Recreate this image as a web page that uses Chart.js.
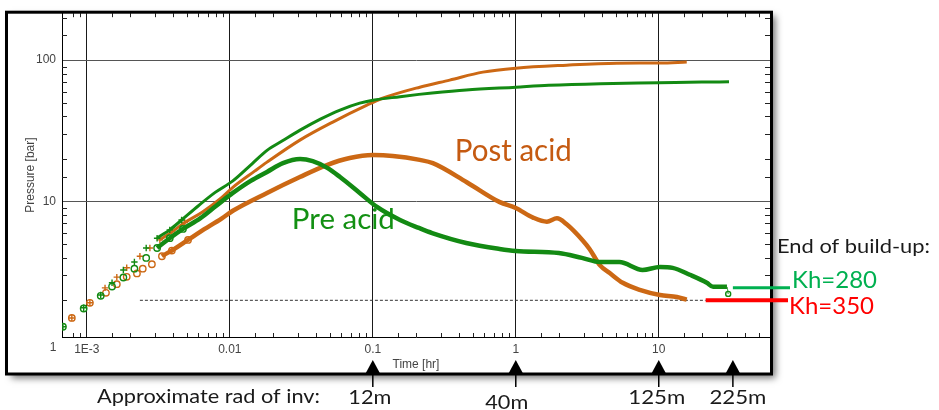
<!DOCTYPE html>
<html>
<head>
<meta charset="utf-8">
<script src="https://cdn.jsdelivr.net/npm/chart.js@4.4.1/dist/chart.umd.min.js"></script>
<style>
  html, body { margin: 0; padding: 0; background: #fff; }
  #wrap { width: 939px; height: 410px; }
</style>
</head>
<body>
<div id="wrap"><canvas id="myChart" width="939" height="410"></canvas></div>
<script>
// Pre acid (green): pressure change and derivative
const preDpT = [6.8e-4, 9.5e-4, 1.25e-3, 1.5e-3, 1.8e-3, 2.15e-3, 2.6e-3, 3.1e-3, 3.8e-3, 4.6e-3, 6.0e-3, 7.9e-3, 0.0105, 0.0143, 0.0182, 0.0235, 0.031, 0.043, 0.059, 0.081, 0.1, 0.155, 0.21, 0.26, 0.45, 1.0, 1.7, 3.9, 10, 20, 31];
const preDpP = [1.30, 1.77, 2.18, 2.66, 3.28, 3.73, 4.69, 5.5, 6.3, 7.4, 9.3, 11.6, 14.0, 18.5, 23, 27, 32, 38.3, 44.4, 49.7, 52.1, 55.2, 57.3, 58.6, 61.5, 64.4, 66.4, 68.2, 69.2, 70.0, 70.3];
const preDerT = [6.8e-4, 9.5e-4, 1.25e-3, 1.5e-3, 1.8e-3, 2.15e-3, 2.6e-3, 3.1e-3, 3.8e-3, 4.7e-3, 6.2e-3, 0.008, 0.0105, 0.014, 0.0182, 0.0235, 0.031, 0.038, 0.048, 0.059, 0.081, 0.107, 0.155, 0.21, 0.26, 0.45, 0.77, 1.0, 2.0, 2.9, 3.9, 5.3, 7.7, 10.2, 12.5, 16.5, 21.7, 24, 30, 30.6];
const preDerP = [1.30, 1.75, 2.15, 2.5, 2.9, 3.35, 3.99, 4.69, 5.5, 6.4, 7.6, 9.3, 11.5, 14.0, 16.2, 18.7, 20.0, 19.3, 17.3, 14.9, 11.5, 9.15, 7.4, 6.5, 5.98, 5.09, 4.62, 4.47, 4.32, 3.99, 3.73, 3.73, 3.28, 3.44, 3.39, 3.03, 2.66, 2.49, 2.49, 2.22];

// Post acid (orange): pressure change and derivative
const postDpT = [7.85e-4, 1.05e-3, 1.34e-3, 1.62e-3, 1.9e-3, 2.35e-3, 2.76e-3, 3.24e-3, 3.93e-3, 4.84e-3, 6.4e-3, 8.8e-3, 0.0105, 0.0149, 0.0182, 0.0309, 0.0525, 0.091, 0.117, 0.213, 0.345, 0.588, 1.0, 2.27, 5.1, 10.2, 15.7];
const postDpP = [1.50, 1.92, 2.45, 2.92, 3.4, 4.1, 4.69, 5.35, 6.1, 7.1, 8.4, 10.7, 12.6, 16.4, 19.0, 27.2, 36.5, 48.1, 53.8, 64.4, 72.3, 82.3, 87.8, 92.2, 95.2, 95.6, 97.0];
const postDerT = [7.85e-4, 1.05e-3, 1.36e-3, 1.62e-3, 1.9e-3, 2.24e-3, 2.46e-3, 2.85e-3, 3.35e-3, 3.93e-3, 5.1e-3, 6.2e-3, 8.8e-3, 0.0105, 0.0182, 0.0309, 0.0477, 0.069, 0.1, 0.138, 0.213, 0.263, 0.454, 0.773, 1.0, 1.32, 1.65, 1.94, 2.27, 2.94, 3.29, 3.87, 4.54, 5.6, 7.36, 10.2, 13.4, 15.7];
const postDerP = [1.50, 1.92, 2.26, 2.6, 2.93, 3.1, 3.35, 3.6, 4.1, 4.5, 5.35, 6.1, 7.6, 8.6, 11.5, 14.9, 18.1, 20.3, 21.3, 21.0, 19.7, 18.7, 13.7, 9.9, 9.0, 7.7, 7.2, 7.6, 6.9, 5.3, 4.6, 3.55, 3.12, 2.66, 2.37, 2.18, 2.11, 2.02];

// dotted reference level
const refT = [0.00235, 21.3];
const refP = [2, 2];

const xTickVals = [0.001, 0.01, 0.1, 1, 10];
const xTickLabels = ['1E-3', '0.01', '0.1', '1', '10'];
const yTickVals = [10, 100];
const yTickLabels = ['10', '100'];

// radius of investigation markers under the time axis
const radInvT = [0.1, 1, 10, 33];
const radInvLabels = ['12m', '40m', '125m', '225m'];

// end of build-up lines: start time / pressure
const khLabels = ['Kh=280', 'Kh=350'];
const khT = [33, 21.3];
const khP = [2.45, 2.0];

const GREEN = '#138a13';
const ORANGE = '#cc6814';
const TICKFONT = '"Liberation Sans", Arial, sans-serif';
const NOTEFONT = 'Lato, "Open Sans", sans-serif';

function pts(xs, ys) {
    return xs.map((x, i) => ({x: x, y: ys[i]}));
}

function isOn(v, list) {
    return list.findIndex(t => Math.abs(Math.log10(v) - Math.log10(t)) < 1e-6);
}

function curve(label, xs, ys, color, width, style, endMark) {
    const last = xs.length - 1;
    return {
        label: label,
        data: pts(xs, ys),
        showLine: true,
        cubicInterpolationMode: 'monotone',
        borderColor: color,
        borderWidth: width,
        pointStyle: style,
        pointBorderColor: color,
        pointBackgroundColor: 'rgba(255,255,255,0)',
        pointBorderWidth: 1.4,
        pointRadius: ctx => {
            if (!ctx.raw) return 0;
            if (ctx.raw.x < 0.0052) return 3.2;
            if (endMark && ctx.dataIndex === last) return 2.5;
            return 0;
        },
        segment: {
            borderColor: ctx => ctx.p0.parsed.x < 0.003 ? 'rgba(0,0,0,0)' : color,
            borderWidth: ctx => (endMark && ctx.p1DataIndex === last) ? 1 : width
        }
    };
}

function fitText(c, text, x, base, width, size, color) { // squeeze text to the measured width
    c.save();
    c.font = size + 'px ' + NOTEFONT;
    const w = c.measureText(text).width;
    c.translate(x, base);
    c.scale(width / w, 1);
    c.fillStyle = color;
    c.textAlign = 'left';
    c.textBaseline = 'alphabetic';
    c.fillText(text, 0, 0);
    c.restore();
}

const decorations = {
    id: 'decorations',
    beforeDraw(chart) {
        const c = chart.ctx;
        const a = chart.chartArea;
        c.save();
        c.fillStyle = '#fff';
        c.fillRect(0, 0, chart.width, chart.height);
        c.shadowColor = 'rgba(0,0,0,0.55)';
        c.shadowBlur = 7;
        c.shadowOffsetX = 4;
        c.shadowOffsetY = 4;
        c.fillRect(6.5, a.top - 1, a.right + 1.5 - 6.5, 374 - a.top + 1);
        c.restore();
    },
    afterDraw(chart) {
        const c = chart.ctx;
        const a = chart.chartArea;
        const xs = chart.scales.x;
        const ys = chart.scales.y;
        c.save();

        // minor ticks pointing into the plot
        c.strokeStyle = '#222';
        c.lineWidth = 1;
        c.beginPath();
        xs.ticks.forEach(t => {
            if (t.value <= xs.min * 1.001 || t.value >= xs.max * 0.999 || isOn(t.value, xTickVals) >= 0) return;
            const px = Math.round(xs.getPixelForValue(t.value)) + 0.5;
            c.moveTo(px, a.top); c.lineTo(px, a.top + 4);
            c.moveTo(px, a.bottom); c.lineTo(px, a.bottom - 4);
        });
        ys.ticks.forEach(t => {
            if (t.value <= ys.min * 1.001 || t.value >= ys.max * 0.999 || isOn(t.value, yTickVals) >= 0) return;
            const py = Math.round(ys.getPixelForValue(t.value)) + 0.5;
            c.moveTo(a.left, py); c.lineTo(a.left + 5, py);
            c.moveTo(a.right, py); c.lineTo(a.right - 5, py);
        });
        c.stroke();

        // corner label of the pressure axis
        c.font = '12px ' + TICKFONT;
        c.fillStyle = '#444';
        c.textAlign = 'center';
        c.textBaseline = 'middle';
        c.fillText('1', a.left - 9, a.bottom + 11);

        // frame
        c.strokeStyle = '#000';
        c.lineWidth = 3;
        c.strokeRect(6.5, a.top - 1, a.right + 1.5 - 6.5, 374 - a.top + 1);

        // curve names
        fitText(c, 'Post acid', xs.getPixelForValue(0.3746), ys.getPixelForValue(19.3), 117, 30, '#c55a11');
        fitText(c, 'Pre acid', xs.getPixelForValue(0.02714), ys.getPixelForValue(6.36), 103, 28, '#139013');

        // radius of investigation arrows
        fitText(c, 'Approximate rad of inv:', 97, 403, 223, 19.5, '#1a1a1a');
        const dx = [-3, -9, -2, 5];
        const base = [404, 409, 404, 404];
        const wid = [43, 43, 57, 57];
        radInvT.forEach((t, i) => {
            const px = xs.getPixelForValue(t);
            c.fillStyle = '#000';
            c.strokeStyle = '#000';
            c.beginPath();
            c.moveTo(px, 360); c.lineTo(px + 7, 373); c.lineTo(px - 7, 373);
            c.closePath(); c.fill();
            c.lineWidth = 1.5;
            c.beginPath(); c.moveTo(px, 373); c.lineTo(px, 387); c.stroke();
            fitText(c, radInvLabels[i], px + dx[i] - wid[i] / 2, base[i], wid[i], 19.5, '#1a1a1a');
        });

        // end of build-up notes
        fitText(c, 'End of build-up:', 777, 253, 153, 18.5, '#1a1a1a');
        const khColor = ['#00b050', '#ff0000'];
        const khEnd = [a.right + 20, a.right + 18];
        const khBase = [288, 314];
        const khLeft = [792, 789];
        khLabels.forEach((lab, i) => {
            const y = ys.getPixelForValue(khP[i]);
            c.strokeStyle = khColor[i];
            c.lineWidth = i === 0 ? 3 : 4;
            c.beginPath();
            c.moveTo(xs.getPixelForValue(khT[i]), y);
            c.lineTo(khEnd[i], y);
            c.stroke();
            fitText(c, lab, khLeft[i], khBase[i], 85, 24, khColor[i]);
        });
        c.restore();
    }
};

const ctx = document.querySelector('#myChart');

new Chart(ctx, {
    type: 'scatter',
    data: {
        datasets: [
            curve('Pre acid derivative', preDerT, preDerP, GREEN, 4.5, 'circle', true),
            curve('Pre acid pressure', preDpT, preDpP, GREEN, 3, 'cross', false),
            curve('Post acid derivative', postDerT, postDerP, ORANGE, 4.5, 'circle', false),
            curve('Post acid pressure', postDpT, postDpP, ORANGE, 3, 'cross', false),
            {
                label: 'level',
                data: pts(refT, refP),
                showLine: true,
                borderColor: '#333',
                borderWidth: 1,
                borderDash: [3, 2],
                pointRadius: 0
            }
        ]
    },
    options: {
        responsive: false,
        animation: false,
        devicePixelRatio: 1,
        events: [],
        layout: { padding: { left: 0, top: 13, right: 169, bottom: 0 } },
        plugins: {
            legend: { display: false },
            tooltip: { enabled: false }
        },
        scales: {
            x: {
                type: 'logarithmic',
                position: 'bottom',
                min: 6.7e-4,
                max: 60,
                grid: {
                    color: c => (c.tick && isOn(c.tick.value, xTickVals) >= 0) ? '#1a1a1a' : 'rgba(0,0,0,0)',
                    drawTicks: false
                },
                border: { display: true, color: '#000', width: 1 },
                ticks: {
                    autoSkip: false,
                    maxRotation: 0,
                    padding: 5,
                    color: '#444',
                    font: { family: TICKFONT, size: 12 },
                    callback: v => {
                        const i = isOn(v, xTickVals);
                        return i >= 0 ? xTickLabels[i] : '';
                    }
                },
                title: {
                    display: true,
                    text: 'Time [hr]',
                    color: '#444',
                    font: { family: TICKFONT, size: 12 },
                    padding: { top: 0, bottom: 38 }
                },
                afterFit: s => { s.height = 73; }
            },
            y: {
                type: 'logarithmic',
                position: 'left',
                min: 1.1,
                max: 215,
                grid: {
                    color: c => (c.tick && isOn(c.tick.value, yTickVals) >= 0) ? '#555' : 'rgba(0,0,0,0)',
                    drawTicks: false
                },
                border: { display: true, color: '#000', width: 1 },
                ticks: {
                    autoSkip: false,
                    padding: 6,
                    color: '#444',
                    font: { family: TICKFONT, size: 12 },
                    callback: v => {
                        const i = isOn(v, yTickVals);
                        return i >= 0 ? yTickLabels[i] : '';
                    }
                },
                title: {
                    display: true,
                    text: 'Pressure [bar]',
                    color: '#444',
                    font: { family: TICKFONT, size: 12 },
                    padding: { top: 23, bottom: 0 }
                },
                afterFit: s => { s.width = 62; }
            }
        }
    },
    plugins: [decorations]
});
</script>
</body>
</html>
